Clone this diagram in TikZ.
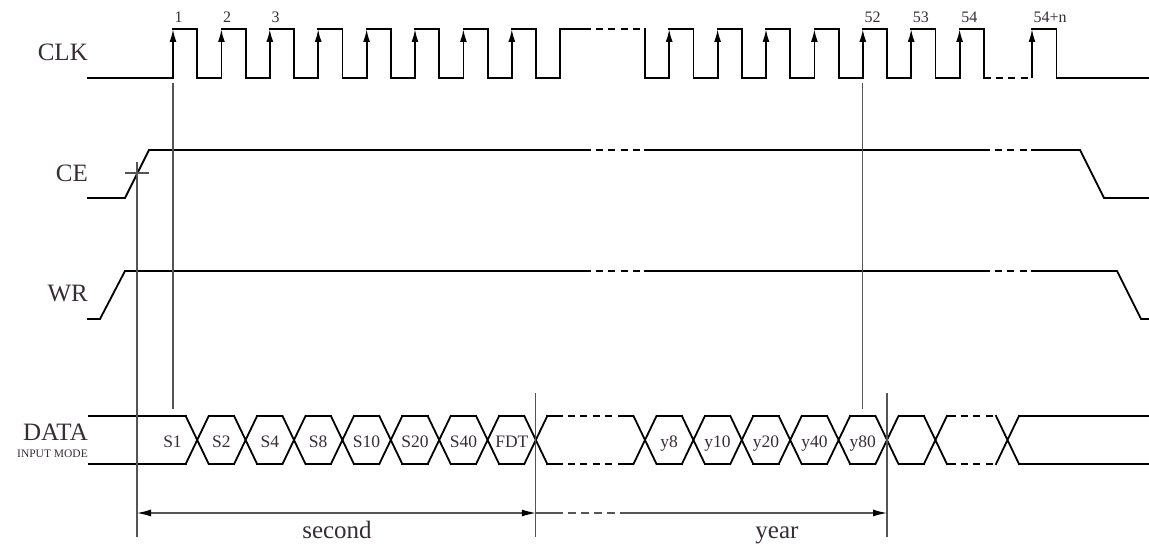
\documentclass[tikz,border=0pt]{standalone}
\usepackage{fontspec}
\setmainfont{Liberation Serif}
\usetikzlibrary{arrows.meta}
\definecolor{ink}{RGB}{55,45,55}
\definecolor{rulegray}{RGB}{85,85,85}
\tikzset{
    sig/.style={line width=1.8pt, black, line cap=rect},
    gapline/.style={line width=1.8pt, black, dash pattern=on 7pt off 5.5pt, dash phase=7pt},
    guide/.style={line width=1.2pt, rulegray},
    dimgap/.style={guide, dash pattern=on 8pt off 5pt, dash phase=8pt},
    clkrise/.style={line width=1.8pt, black, -{Latex[length=13pt,width=7pt]}},
    dimtip/.tip={Latex[length=14pt,width=7pt,color=black]},
    signame/.style={anchor=base east, inner sep=0pt, text=ink, font=\fontsize{25}{30}\selectfont},
    span/.style={anchor=base, inner sep=0pt, text=ink, font=\fontsize{25}{30}\selectfont},
    num/.style={anchor=base west, inner sep=0pt, text=ink, font=\fontsize{16}{19}\selectfont},
    bit/.style={anchor=base, inner sep=0pt, text=ink, font=\fontsize{17.5}{20}\selectfont},
}
\begin{document}
\begin{tikzpicture}[x=1pt, y=-1pt]
        \useasboundingbox (0,0) rectangle (1149,545);
        \node[signame] (clk) at (88,61) {CLK};
        \node[signame] (ce) at (88,182) {CE};
        \node[signame] (wr) at (88,302) {WR};
        \node[signame] (data) at (88,440) {DATA};
        \node[signame, font=\fontsize{11.5}{14}\selectfont] (mode) at (88,457) {INPUT MODE};

        \draw[sig] (88,78) -- (173,78);
        \foreach \xr in {173,221.4,269.8,318.2,366.6,415,463.4,511.8,669.2,717.6,766,814.4,862.8,911.2} {
            \draw[clkrise] (\xr,78) -- (\xr,29);
            \draw[sig] (\xr,29) -- ++(24.2,0) -- ++(0,49) -- ++(24.2,0);
        }
        \draw[sig] (560.2,78) -- (560.2,29) -- (590,29);
        \draw[gapline] (590,29) -- (645,29);
        \draw[sig] (645,29) -- (645,78) -- (669.2,78);
        \draw[clkrise] (959.6,78) -- (959.6,29);
        \draw[sig] (959.6,29) -- (983.8,29) -- (983.8,78) -- (990,78);
        \draw[gapline] (990,78) -- (1032,78);
        \draw[clkrise] (1032,78) -- (1032,29);
        \draw[sig] (1032,29) -- (1056.4,29) -- (1056.4,78) -- (1149,78);
        \foreach \xr/\txt/\id in {173/1/a,221.4/2/b,269.8/3/c,862.8/52/d,911.2/53/e,959.6/54/f,1032/54+n/g}
            \node[num] (lab\id) at (\xr+1.5,23) {\txt};

        \draw[sig] (88,198) -- (125,198) -- (149,150) -- (590,150);
        \draw[gapline] (590,150) -- (645,150);
        \draw[sig] (645,150) -- (989,150);
        \draw[gapline] (989,150) -- (1032,150);
        \draw[sig] (1032,150) -- (1080,150) -- (1104,198) -- (1149,198);

        \draw[sig] (88,319) -- (100,319) -- (125,271) -- (590,271);
        \draw[gapline] (590,271) -- (645,271);
        \draw[sig] (645,271) -- (989,271);
        \draw[gapline] (989,271) -- (1032,271);
        \draw[sig] (1032,271) -- (1117,271) -- (1141,319) -- (1149,319);

        \draw[sig] (89,416) -- (185.7,416) (89,464) -- (185.7,464);
        \foreach \xc in {197.2,245.6,294,342.4,390.8,439.2,487.6,535.8,645,693.4,741.8,790.2,838.6,887,935.4,1007.5}
            \draw[sig] (\xc-11.5,416) -- (\xc+11.5,464) (\xc-11.5,464) -- (\xc+11.5,416);
        \foreach \xc in {197.2,245.6,294,342.4,390.8,439.2,487.6,645,693.4,741.8,790.2,838.6,887}
            \draw[sig] (\xc+11.5,416) -- (\xc+36.9,416) (\xc+11.5,464) -- (\xc+36.9,464);
        \draw[sig] (547.3,416) -- (562,416) (547.3,464) -- (562,464);
        \draw[gapline] (562,416) -- (621,416) (562,464) -- (621,464);
        \draw[sig] (621,416) -- (633.5,416) (621,464) -- (633.5,464);
        \draw[sig] (946.9,416) -- (955,416) (946.9,464) -- (955,464);
        \draw[gapline] (955,416) -- (996,416) (955,464) -- (996,464);
        \draw[sig] (1019,416) -- (1149,416) (1019,464) -- (1149,464);
        \foreach \xb/\txt in {172.5/S1,221.4/S2,269.8/S4,318.2/S8,366.6/S10,415/S20,463.4/S40,511.8/FDT,669.2/y8,717.6/y10,766/y20,814.4/y40,862.8/y80}
            \node[bit] (bit\txt) at (\xb,447) {\txt};

        \coordinate (ceT) at (137,162);
        \coordinate (ceB) at (137,537);
        \coordinate (c1T) at (173,83);
        \coordinate (c1B) at (173,409);
        \coordinate (c52T) at (862.8,83);
        \coordinate (c52B) at (862.8,409);
        \coordinate (secT) at (535.8,393);
        \coordinate (secB) at (535.8,537);
        \coordinate (yrT) at (887,393);
        \coordinate (yrB) at (887,537);
        \coordinate (tickL) at (125,173);
        \coordinate (tickR) at (149,173);
        \draw[guide] (ceT) -- (ceB);
        \draw[guide] (tickL) -- (tickR);
        \draw[guide] (c1T) -- (c1B);
        \draw[guide] (c52T) -- (c52B);
        \draw[guide] (secT) -- (secB);
        \draw[guide] (yrT) -- (yrB);

        \coordinate (dA) at (137,513);
        \coordinate (dB) at (535.8,513);
        \coordinate (dC) at (887,513);
        \draw[guide, dimtip-dimtip] (dA) -- (dB);
        \draw[guide] (dB) -- (563,513);
        \draw[dimgap] (563,513) -- (620,513);
        \draw[guide, -dimtip] (620,513) -- (dC);
        \node[span] (second) at (337,538) {second};
        \node[span] (year) at (777,538) {year};
\end{tikzpicture}
\end{document}
